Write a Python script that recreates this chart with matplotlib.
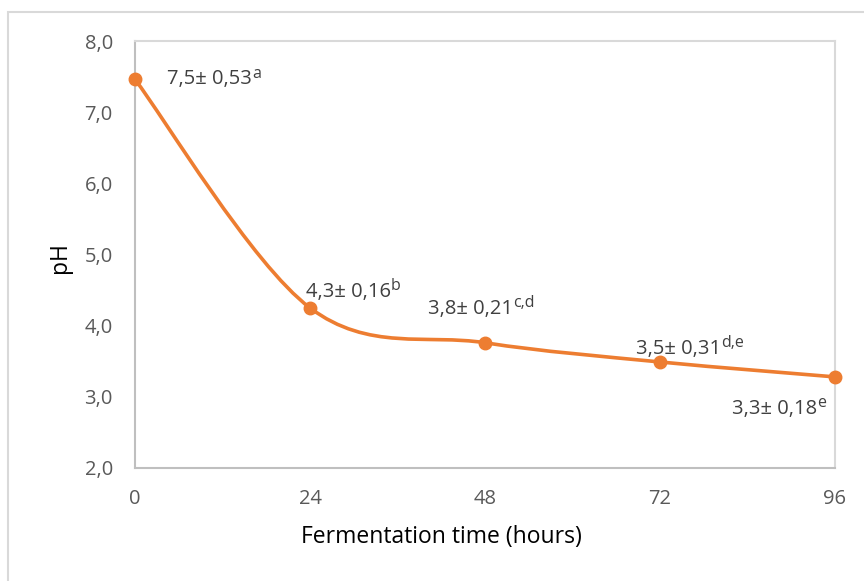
import matplotlib.pyplot as plt
from matplotlib.patches import Rectangle
from matplotlib.path import Path
from matplotlib.patches import PathPatch
import numpy as np

plt.rcParams["font.family"] = ["Open Sans", "DejaVu Sans"]

hours = [0, 24, 48, 72, 96]
ph = [7.46, 4.25, 3.76, 3.49, 3.28]
labels = ["7,5± 0,53", "4,3± 0,16", "3,8± 0,21", "3,5± 0,31", "3,3± 0,18"]
letters = ["a", "b", "c,d", "d,e", "e"]
xticks = [0, 24, 48, 72, 96]
yticks = [2, 3, 4, 5, 6, 7, 8]

ORANGE = "#ED7D31"
W, H = 864, 581

fig = plt.figure(figsize=(W / 100, H / 100), dpi=100)
# outer chart frame
fig.patches.append(Rectangle((8 / W, 0 - 0.01), 1.0, 1 - 12 / H + 0.01,
                             transform=fig.transFigure, fill=False,
                             edgecolor="#D9D9D9", linewidth=1.5))

ax = fig.add_axes([135 / W, 1 - 468 / H, 700 / W, 427 / H])
ax.set_xlim(0, 96)
ax.set_ylim(2, 8)


def smooth_path(xs, ys):
    # Catmull-Rom style bezier smoothing (like Excel's smoothed line)
    pts = np.column_stack([xs, ys]).astype(float)
    verts = [pts[0]]
    codes = [Path.MOVETO]
    n = len(pts)
    for i in range(n - 1):
        p0 = pts[i - 1] if i > 0 else pts[i]
        p1 = pts[i]
        p2 = pts[i + 1]
        p3 = pts[i + 2] if i + 2 < n else pts[i + 1]
        c1 = p1 + (p2 - p0) / 6
        c2 = p2 - (p3 - p1) / 6
        verts += [c1, c2, p2]
        codes += [Path.CURVE4] * 3
    return Path(verts, codes)


ax.add_patch(PathPatch(smooth_path(hours, ph), facecolor="none",
                       edgecolor=ORANGE, linewidth=2.6, capstyle="round",
                       zorder=3))
ax.plot(hours, ph, "o", color=ORANGE, markersize=9, zorder=4,
        clip_on=False)

# label offsets in pixels (left edge of the label, vertical centre)
offsets = [(32, 0), (-4, 16), (-57, 34), (-24, 13), (-103, -32)]
for x, y, lab, sup, (dx, dy) in zip(hours, ph, labels, letters, offsets):
    t = ax.annotate(lab, (x, y), xytext=(dx, dy), textcoords="offset pixels",
                    ha="left", va="center", fontsize=14.5, color="#404040")
    ax.annotate(sup, xy=(1, 0.58), xycoords=t, xytext=(0, 0),
                textcoords="offset pixels", ha="left", va="baseline",
                fontsize=11.5, color="#404040")

ax.set_xticks(xticks)
ax.set_yticks(yticks)
ax.set_yticklabels([f"{v:.1f}".replace(".", ",") for v in yticks])
ax.tick_params(axis="both", length=0, labelsize=14.5, colors="#595959")
ax.tick_params(axis="x", pad=15)
ax.tick_params(axis="y", pad=16)

ax.set_xlabel("Fermentation time (hours)", fontsize=16.5, color="#000000")
ax.xaxis.set_label_coords((441 - 135) / 700, -(525 - 468) / 427)
ax.set_ylabel("pH", fontsize=16.5, color="#000000")
ax.yaxis.set_label_coords(-(135 - 72) / 700, (468 - 258) / 427)

for side in ["top", "right"]:
    ax.spines[side].set_color("#D9D9D9")
    ax.spines[side].set_linewidth(1.5)
for side in ["left", "bottom"]:
    ax.spines[side].set_color("#BFBFBF")
    ax.spines[side].set_linewidth(1.5)

plt.savefig("out.png", dpi=100)
